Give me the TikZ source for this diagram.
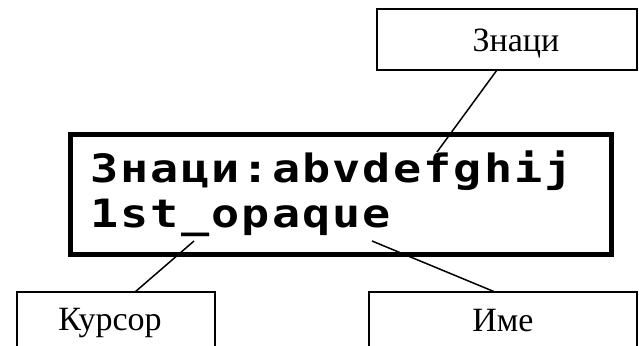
\documentclass[tikz,border=0pt]{standalone}
\usepackage{fontspec}
\setmainfont{Liberation Serif}
\newfontfamily\lcdfont[FakeStretch=1.2]{DejaVu Sans Mono Bold}
\ExplSyntaxOn
\NewDocumentCommand\lcdline{m}{\tl_map_inline:nn{#1}{\makebox[30.3pt][c]{##1}}}
\ExplSyntaxOff
\tikzset{
  lblbox/.style={draw=black, line width=1.8pt, inner sep=0pt, minimum width=#1},
  lbltext/.style={inner sep=0pt, anchor=base, font=\fontsize{34}{34}\selectfont},
  lcdbox/.style={draw=black, line width=5pt, inner sep=0pt},
  lcdtext/.style={inner sep=0pt, anchor=base west, font=\lcdfont\fontsize{39}{39}\selectfont},
  conn/.style={draw=black, line width=1.5pt}
}
\begin{document}
\begin{tikzpicture}[x=1pt,y=-1pt]
\useasboundingbox (0,0) rectangle (639,345);
\clip (0,0) rectangle (639,345);
% LCD display
\node[lcdbox, minimum width=541pt, minimum height=120pt] (lcd) at (341,194) {};
\node[lcdtext] (line1) at (89,182) {\lcdline{Знаци:abvdefghij}};
\node[lcdtext] (line2) at (89,227) {\lcdline{1st\_opaque}};
% label boxes
\node[lblbox=260pt, minimum height=61pt] (zbox) at (507,39.5) {};
\node[lbltext] (ztext) at (516,52) {Знаци};
\node[lblbox=198pt, minimum height=80pt] (kbox) at (116,332) {};
\node[lbltext] (ktext) at (110,330) {Курсор};
\node[lblbox=268pt, minimum height=80pt] (ibox) at (503,332) {};
\node[lbltext] (itext) at (503,331) {Име};
% connector ends
\coordinate (zin) at (497,70);
\coordinate (zpt) at (437,152);
\coordinate (kin) at (135,292);
\coordinate (kpt) at (194,241);
\coordinate (iin) at (495,292);
\coordinate (ipt) at (372,241);
\draw[conn] (zin) -- (zpt);
\draw[conn] (kin) -- (kpt);
\draw[conn] (iin) -- (ipt);
\end{tikzpicture}
\end{document}
